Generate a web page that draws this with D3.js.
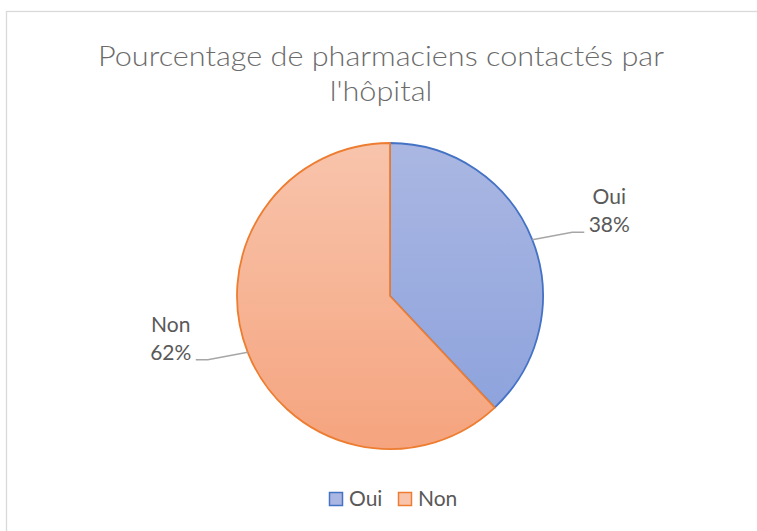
<!DOCTYPE html>
<html>
<head>
<meta charset="utf-8">
<script src="https://cdn.jsdelivr.net/npm/d3@7"></script>
<style>
  body { margin: 0; background: #fff; }
  svg { display: block; font-family: Lato, "Open Sans", sans-serif; }
</style>
</head>
<body>
<div id="chart"></div>
<script>
const titleLines = ["Pourcentage de pharmaciens contactés par", "l'hôpital"];
const categories = ["Oui", "Non"];
const values = [38, 62];
const fills = [["#aab7e2", "#8aa0dc"], ["#f8c4ac", "#f5a47e"]];
const strokes = ["#4472c4", "#ed7d31"];

const width = 757, height = 531;
const cx = 390, cy = 296, r = 153;

const svg = d3.select("#chart").append("svg")
  .attr("width", width)
  .attr("height", height);

// chart area border (right/bottom run off the canvas)
svg.append("rect")
  .attr("x", 6.5).attr("y", 11.5)
  .attr("width", 780).attr("height", 560)
  .attr("fill", "#fff")
  .attr("stroke", "#d9d9d9")
  .attr("stroke-width", 1.3);

const defs = svg.append("defs");
fills.forEach((f, i) => {
  const g = defs.append("linearGradient")
    .attr("id", "grad" + i)
    .attr("gradientUnits", "userSpaceOnUse")
    .attr("x1", 0).attr("y1", -r)
    .attr("x2", 0).attr("y2", r);
  g.append("stop").attr("offset", "0%").attr("stop-color", f[0]);
  g.append("stop").attr("offset", "100%").attr("stop-color", f[1]);
});

// title: narrow it like Calibri Light to the reference width
const titleSize = 27;
const title = svg.append("g").attr("fill", "#6b6b6b").style("font-weight", 300)
  .style("font-size", titleSize + "px");
const tl = titleLines.map((s, i) => title.append("text")
  .attr("x", 381).attr("y", 66 + i * 35)
  .attr("text-anchor", "middle")
  .text(s));
const squeeze = 566 / tl[0].node().getComputedTextLength();
tl.forEach(t => {
  t.attr("textLength", t.node().getComputedTextLength() * squeeze)
    .attr("lengthAdjust", "spacingAndGlyphs");
});

const pie = d3.pie().sort(null).value(d => d);
const arcs = pie(values);
const arc = d3.arc().innerRadius(0).outerRadius(r);

const g = svg.append("g").attr("transform", `translate(${cx},${cy})`);
g.selectAll("path")
  .data(arcs)
  .join("path")
  .attr("d", arc)
  .attr("fill", (d, i) => `url(#grad${i})`)
  .attr("stroke", (d, i) => strokes[i])
  .attr("stroke-width", 1.8)
  .attr("stroke-linejoin", "round");

// data labels with leader lines
const labelSize = 21;
arcs.forEach((d, i) => {
  const a = (d.startAngle + d.endAngle) / 2;
  const dx = Math.sin(a), dy = -Math.cos(a);
  const side = dx >= 0 ? 1 : -1;
  const sx = cx + r * dx, sy = cy + r * dy;
  const ex = sx + side * 40, ey = sy + dy * 20;
  const fx = ex + side * 12;
  svg.append("path")
    .attr("d", `M${sx},${sy}L${ex},${ey}L${fx},${ey}`)
    .attr("fill", "none")
    .attr("stroke", "#a6a6a6")
    .attr("stroke-width", 1.5);
  const tx = fx + side * 25;
  const lbl = svg.append("text")
    .attr("text-anchor", "middle")
    .attr("fill", "#595959")
    .style("font-size", labelSize + "px");
  lbl.append("tspan").attr("x", tx).attr("y", ey - 28).text(categories[i]);
  lbl.append("tspan").attr("x", tx).attr("y", ey).text(values[i] + "%");
});

// legend
const legend = svg.append("g").attr("transform", "translate(329,492)");
const pos = [0, 69];
categories.forEach((c, i) => {
  legend.append("rect")
    .attr("x", pos[i] + 0.5).attr("y", 0.5)
    .attr("width", 13).attr("height", 13)
    .attr("fill", fills[i][0])
    .attr("stroke", strokes[i])
    .attr("stroke-width", 1.5);
  legend.append("text")
    .attr("x", pos[i] + 20).attr("y", 13.5)
    .attr("fill", "#595959")
    .style("font-size", labelSize + "px")
    .text(c);
});
</script>
</body>
</html>
